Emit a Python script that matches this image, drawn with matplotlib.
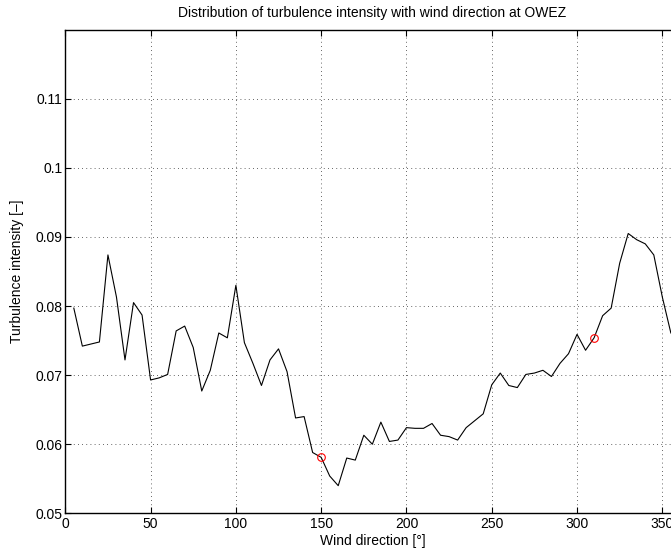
import numpy as np
import matplotlib.pyplot as plt

plt.rcParams['font.family'] = ['Liberation Sans', 'DejaVu Sans']

# turbulence intensity per 5 degree wind direction sector
direction = np.arange(5, 360, 5)
ti = [0.0797, 0.0742, 0.0745, 0.0748, 0.0874, 0.0813, 0.0722, 0.0805, 0.0787,
      0.0693, 0.0696, 0.0701, 0.0764, 0.0771, 0.0740, 0.0677, 0.0707, 0.0761,
      0.0754, 0.0830, 0.0747, 0.0717, 0.0685, 0.0722, 0.0738, 0.0705, 0.0638,
      0.0640, 0.0588, 0.0581, 0.0554, 0.0540, 0.0580, 0.0577, 0.0613, 0.0600,
      0.0632, 0.0604, 0.0606, 0.0624, 0.0623, 0.0623, 0.0630, 0.0613, 0.0611,
      0.0606, 0.0624, 0.0634, 0.0644, 0.0686, 0.0703, 0.0685, 0.0682, 0.0701,
      0.0703, 0.0707, 0.0698, 0.0717, 0.0731, 0.0759, 0.0736, 0.0754, 0.0786,
      0.0797, 0.0862, 0.0905, 0.0896, 0.0890, 0.0874, 0.0813, 0.0761]

# highlighted sectors
mark_dir = [150, 310]
mark_ti = [0.0581, 0.0754]

xticks = [0, 50, 100, 150, 200, 250, 300, 350]
yticks = [0.05, 0.06, 0.07, 0.08, 0.09, 0.1, 0.11]
ytick_labels = ['0.05', '0.06', '0.07', '0.08', '0.09', '0.1', '0.11']

fig = plt.figure(figsize=(6.71, 5.52), dpi=100)
ax = fig.add_axes([0.0973, 0.0701, 0.9152, 0.8761])

ax.plot(direction, ti, color='black', lw=0.8)
ax.plot(mark_dir, mark_ti, 'o', mfc='none', mec='red', ms=5.5, mew=0.8)

ax.set_xlim(0, 360)
ax.set_ylim(0.05, 0.12)
ax.set_xticks(xticks)
ax.set_yticks(yticks)
ax.set_yticklabels(ytick_labels)
ax.tick_params(direction='in', length=4, width=0.8, labelsize=10,
               top=True, right=True, pad=2)
ax.tick_params(axis='x', pad=3)
ax.grid(True, linestyle=(0, (1, 4)), color='black', linewidth=0.6, alpha=0.8)
for s in ax.spines.values():
    s.set_linewidth(1.0)

ax.set_title('Distribution of turbulence intensity with wind direction at OWEZ',
             fontsize=10, pad=9)
ax.set_xlabel('Wind direction [°]', fontsize=10, labelpad=2)
ax.set_ylabel('Turbulence intensity [–]', fontsize=10, labelpad=8)

fig.savefig('out.png', dpi=100)
